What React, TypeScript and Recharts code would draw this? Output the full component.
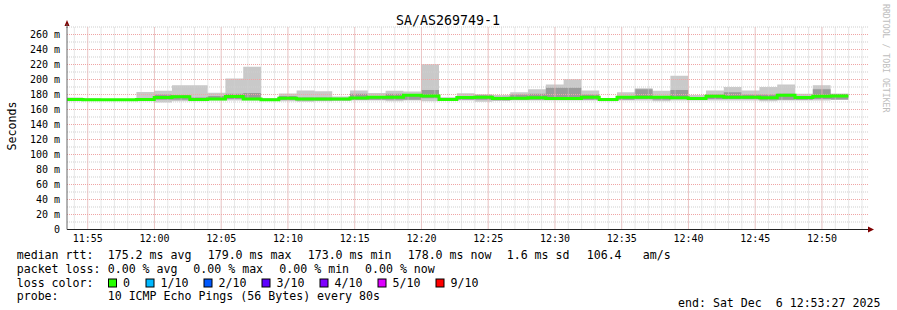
import React from 'react';
import { ComposedChart, Area, Line, XAxis, YAxis, ReferenceLine } from 'recharts';

// time axis in seconds from 11:53:27 (graph end 12:53:27 minus one hour)
const SPAN = 3600;
const STEP = 80; // one sample every 80s
const FIRST_START = -8; // first sample starts just left of the canvas

// ping rtt per sample, ms
const minRtt = [
  171, 172, 172, 172, 171, 169.5, 171, 171, 172, 172, 172,
  172, 171, 170.5, 171, 172, 172, 172, 171, 172, 171, 172,
  172, 170.5, 172, 172, 172, 172, 172, 172, 171, 172, 172,
  171, 172, 172, 172, 172, 172, 171, 172, 172, 172,
];
const maxRtt = [
  176, 175, 174, 174, 183.5, 185, 192.5, 192.5, 182.5, 201.5, 217,
  175.5, 181.5, 185.5, 184.5, 177.3, 185.5, 182, 185, 184, 220.5, 176.5,
  181.7, 180.5, 179.5, 183, 187, 193.5, 200.5, 185.5, 174, 183, 188.5,
  185, 205, 179.5, 185.5, 190, 185.5, 190, 193.5, 181, 192.5, 187,
];
const coreLo = [
  172, 172.5, 172.5, 172.5, 172, 173, 173, 172, 174, 174, 174,
  172.5, 173, 172, 172, 172, 173, 173, 173, 173, 175, 172,
  173, 173, 172, 173, 173, 174, 174, 173, 172.5, 173, 174,
  173, 174, 173, 174, 174, 174, 173, 173, 173, 174, 173,
];
const coreHi = [
  175, 174, 173.5, 173.5, 175, 180, 179, 176, 178, 181, 182,
  174, 178, 176, 176, 175, 181, 178, 181, 178, 186, 175,
  178, 179, 177, 180, 181, 189, 189, 180, 173.8, 178, 187,
  178, 186, 176, 180, 183, 180, 180, 181, 177, 187, 181,
];
const medianRtt = [
  173.5, 173, 173, 173, 173.5, 176, 177, 173.3, 174, 177.3, 174,
  173, 175, 174, 174, 174, 175.3, 176.2, 176.5, 179, 178, 173.3,
  176, 176.2, 174.8, 175, 175.6, 174.6, 174.6, 176.4, 173.3, 176.2, 176.4,
  176.3, 175.8, 174.6, 177.6, 176.5, 176.4, 175.6, 179, 176, 177.6, 178,
];

const timeLabels = ['11:55', '12:00', '12:05', '12:10', '12:15', '12:20', '12:25', '12:30', '12:35', '12:40', '12:45', '12:50'];
const majorTimes = timeLabels.map((_, i) => 93 + 300 * i);
const minorTimes = Array.from({ length: 60 }, (_, i) => 33 + 60 * i).filter((t) => t < SPAN);
const yTicks = [0, 20, 40, 60, 80, 100, 120, 140, 160, 180, 200, 220, 240, 260];
const yMinor = [10, 30, 50, 70, 90, 110, 130, 150, 170, 190, 210, 230, 250, 270];

const lossColors = [
  { label: '0', color: '#26ff00' },
  { label: '1/10', color: '#00b8ff' },
  { label: '2/10', color: '#0059ff' },
  { label: '3/10', color: '#5e00ff' },
  { label: '4/10', color: '#7e00ff' },
  { label: '5/10', color: '#dd00ff' },
  { label: '9/10', color: '#ff0000' },
];

// each sample becomes a flat step: one row at its start, one at its end
const rows: any[] = [];
medianRtt.forEach((m, i) => {
  const t0 = FIRST_START + STEP * i;
  const v = { smoke: [minRtt[i], maxRtt[i]], core: [coreLo[i], coreHi[i]], median: m };
  rows.push({ t: t0, ...v }, { t: t0 + STEP, ...v });
});

const mono = 'DejaVu Sans Mono';
const GRID = '#cfcfcf';
const MGRID = '#efa5a5';

const Legend = () => {
  const fs = 11.6;
  const T = (x: number, y: number, s: string) => (
    <text x={x} y={y} fontFamily={mono} fontSize={fs} fill="#000" style={{ whiteSpace: 'pre' }}>
      {s}
    </text>
  );
  return (
    <svg width={897} height={310} style={{ position: 'absolute', left: 0, top: 0, pointerEvents: 'none' }}>
      <text x={448} y={25} textAnchor="middle" fontFamily={mono} fontSize={13.3} fill="#000">
        SA/AS269749-1
      </text>
      <text x={16} y={126} transform="rotate(-90 16 126)" textAnchor="middle" fontFamily={mono} fontSize={11.6} fill="#000">
        Seconds
      </text>
      <text x={883} y={4} transform="rotate(90 883 4)" fontFamily={mono} fontSize={8.2} fill="#bdbdbd">
        RRDTOOL / TOBI OETIKER
      </text>
      <polygon points="64.5,26 69.5,26 67,20" fill="#7f0000" />
      <line x1={67} y1={24} x2={67} y2={28} stroke="#666" />
      <polygon points="868,226.5 868,232.5 874,229.5" fill="#7f0000" />

      {T(16.7, 259, 'median rtt:')}
      {T(107.7, 259, '175.2 ms avg')}
      {T(207.7, 259, '179.0 ms max')}
      {T(307.7, 259, '173.0 ms min')}
      {T(407.7, 259, '178.0 ms now')}
      {T(506.7, 259, '1.6 ms sd')}
      {T(586.7, 259, '106.4')}
      {T(642.7, 259, 'am/s')}

      {T(16.7, 273, 'packet loss:')}
      {T(107.7, 273, '0.00 % avg')}
      {T(193.3, 273, '0.00 % max')}
      {T(279.3, 273, '0.00 % min')}
      {T(365, 273, '0.00 % now')}

      {T(16.7, 287, 'loss color:')}
      {lossColors.map((c, i) => {
        const bx = i === 0 ? 108.5 : 88 + 58 * i;
        return (
          <g key={c.label}>
            <rect x={bx} y={279} width={8} height={8} fill={c.color} stroke="#000" strokeWidth={1} />
            {T(bx + 14.5, 287, c.label)}
          </g>
        );
      })}

      {T(16.7, 300, 'probe:')}
      {T(107.7, 300, '10 ICMP Echo Pings (56 Bytes) every 80s')}
      {T(678, 307, 'end: Sat Dec  6 12:53:27 2025')}
    </svg>
  );
};

export default function App() {
  return (
    <div style={{ position: 'absolute', left: 0, top: 0, width: 897, height: 310, background: '#fff' }}>
      <ComposedChart width={897} height={310} data={rows} margin={{ top: 27, right: 29, bottom: 60.5, left: 0 }}>
        <XAxis
          dataKey="t"
          type="number"
          domain={[0, SPAN]}
          allowDataOverflow
          ticks={majorTimes}
          tickFormatter={(v: number) => timeLabels[majorTimes.indexOf(v)] ?? ''}
          interval={0}
          height={20}
          tickSize={0}
          tickMargin={5}
          tick={{ fontFamily: mono, fontSize: 10, fill: '#000' }}
          axisLine={{ stroke: '#222' }}
        />
        <YAxis
          type="number"
          domain={[0, 270]}
          allowDataOverflow
          ticks={yTicks}
          interval={0}
          width={67}
          tickSize={0}
          tickMargin={7}
          tickFormatter={(v: number) => (v === 0 ? '0' : `${v} m`)}
          tick={{ fontFamily: mono, fontSize: 10, fill: '#000' }}
          axisLine={{ stroke: '#666' }}
        />
        {minorTimes.map((t) => (
          <ReferenceLine key={'vx' + t} x={t} stroke={GRID} strokeDasharray="1 1" />
        ))}
        {yMinor.map((v) => (
          <ReferenceLine key={'hy' + v} y={v} stroke={GRID} strokeDasharray="1 1" />
        ))}
        {majorTimes.map((t) => (
          <ReferenceLine key={'mx' + t} x={t} stroke={MGRID} strokeDasharray="1 1" />
        ))}
        {yTicks.filter((v) => v > 0).map((v) => (
          <ReferenceLine key={'my' + v} y={v} stroke={MGRID} strokeDasharray="1 1" />
        ))}
        <Area
          dataKey="smoke"
          type="linear"
          stroke="none"
          fill="#c9c9c9"
          fillOpacity={1}
          dot={false}
          activeDot={false}
          isAnimationActive={false}
        />
        <Area
          dataKey="core"
          type="linear"
          stroke="none"
          fill="#9b9b9b"
          fillOpacity={1}
          dot={false}
          activeDot={false}
          isAnimationActive={false}
        />
        <Line
          dataKey="median"
          type="linear"
          stroke="#26ff00"
          strokeWidth={3}
          strokeLinecap="butt"
          strokeLinejoin="miter"
          dot={false}
          activeDot={false}
          isAnimationActive={false}
        />
      </ComposedChart>
      <Legend />
    </div>
  );
}
